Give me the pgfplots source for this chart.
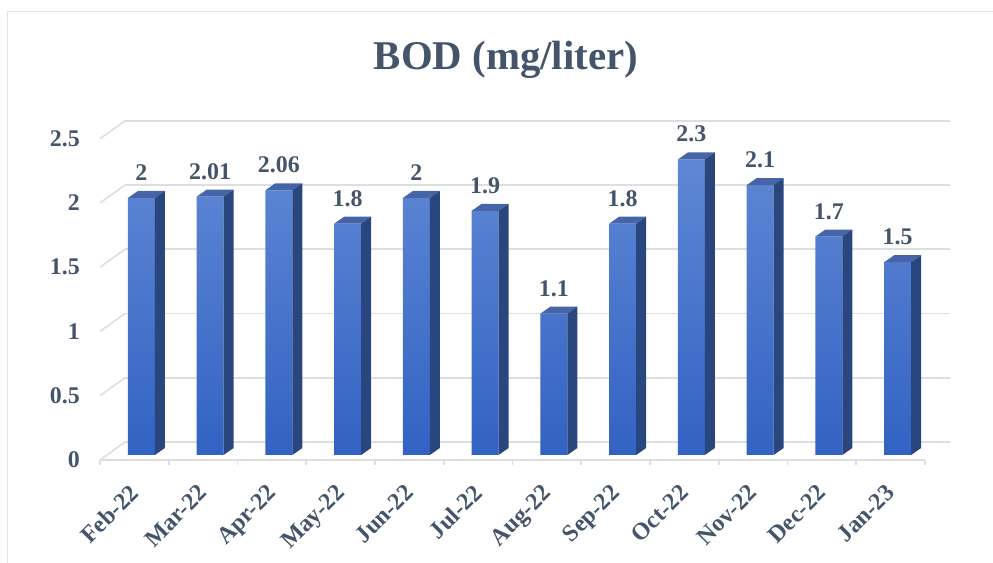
\documentclass[border=0pt]{standalone}
\usepackage{pgfplots}
\pgfplotsset{compat=1.18}
\usepackage{pgfplotstable}
\usepackage{fontspec}
\setmainfont{Liberation Serif}

\definecolor{txt}{HTML}{44546A}
\definecolor{gridc}{HTML}{DCDEE2}
\definecolor{framec}{HTML}{E2E4E8}
\definecolor{facetop}{HTML}{5F87D4}
\definecolor{facebot}{HTML}{3262C3}
\definecolor{bartop}{HTML}{4565A8}
\definecolor{barside}{HTML}{29467F}

% monthly BOD values (mg/liter), categories centred at k+0.5
\pgfplotstableread{
x     v
0.5   2
1.5   2.01
2.5   2.06
3.5   1.8
4.5   2
5.5   1.9
6.5   1.1
7.5   1.8
8.5   2.3
9.5   2.1
10.5  1.7
11.5  1.5
}\boddata

% top and side faces of a 3D column, drawn from the column's top front edge
\pgfdeclareplotmark{colcap}{%
  \pgfmathsetmacro\colh{\barval*128.98}%
  \pgfpathmoveto{\pgfpoint{-13.5bp}{0pt}}%
  \pgfpathlineto{\pgfpoint{13.5bp}{0pt}}%
  \pgfpathlineto{\pgfpoint{23.5bp}{7bp}}%
  \pgfpathlineto{\pgfpoint{-3.5bp}{7bp}}%
  \pgfpathclose
  \pgfsetfillcolor{bartop}%
  \pgfusepath{fill}%
  \pgfpathmoveto{\pgfpoint{13.5bp}{0pt}}%
  \pgfpathlineto{\pgfpoint{23.5bp}{7bp}}%
  \pgfpathlineto{\pgfpoint{23.5bp}{7bp-\colh pt}}%
  \pgfpathlineto{\pgfpoint{13.5bp}{-\colh pt}}%
  \pgfpathclose
  \pgfsetfillcolor{barside}%
  \pgfusepath{fill}%
}

\pgfplotsset{
  chartunits/.style={
    x=68.75bp, y=128.5bp,
    xmin=0, xmax=12, ymin=0, ymax=2.5,
    anchor=south west, clip=false,
  },
}

\newcommand\lbl{\bfseries\fontsize{24}{28}\selectfont}

\begin{document}
\begin{tikzpicture}
\useasboundingbox (0,0) rectangle (993bp,563bp);
\draw[framec, line width=1.5bp] (7.5bp,-10bp) -- (7.5bp,551.5bp) -- (1010bp,551.5bp);

\node[txt, font=\bfseries\fontsize{41}{48}\selectfont] at (506bp,503bp) {BOD (mg/liter)};

% back wall with its gridlines and the left side edges
\begin{axis}[chartunits, at={(125bp,121bp)},
  axis line style={draw=none},
  xtick=\empty, ytick={0,0.5,1,1.5,2,2.5}, yticklabels={},
  major tick length=0pt,
  ymajorgrids, grid style={gridc, line width=1.6bp},
]
\pgfplotsinvokeforeach{0,0.5,1,1.5,2,2.5}{
  \draw[gridc, line width=1.6bp] (axis cs:0,#1) -- ++(-25bp,-18bp);
}
\end{axis}

% front plane: category axis and value labels
\begin{axis}[chartunits, at={(100bp,103bp)},
  axis x line*=bottom, axis y line*=left,
  x axis line style={gridc, line width=1.6bp},
  y axis line style={draw=none},
  xtick={0.5,1.5,2.5,3.5,4.5,5.5,6.5,7.5,8.5,9.5,10.5,11.5},
  xticklabels={Feb-22,Mar-22,Apr-22,May-22,Jun-22,Jul-22,Aug-22,Sep-22,Oct-22,Nov-22,Dec-22,Jan-23},
  minor xtick={0,1,...,12},
  ytick={0,0.5,1,1.5,2,2.5},
  major tick length=0pt, minor tick length=5bp, tick align=outside,
  minor tick style={gridc, line width=1.6bp},
  ytick style={draw=none},
  /pgf/number format/assume math mode=true,
  xticklabel style={txt, font=\lbl, inner sep=0pt, anchor=north east,
    xshift=-6bp, yshift=-23bp, rotate=45},
  yticklabel style={txt, font=\lbl, inner sep=0pt, anchor=east, xshift=-20bp},
]
\end{axis}

% columns
\begin{axis}[chartunits, at={(107bp,108bp)}, hide axis,
  /pgf/number format/assume math mode=true,
]
\addplot[ybar, bar width=27bp, draw=none, top color=facetop, bottom color=facebot,
  nodes near coords,
  nodes near coords style={txt, font=\lbl, anchor=south, inner sep=0pt, yshift=17bp},
] table[x=x, y=v] {\boddata};
\addplot[only marks, mark=colcap,
  visualization depends on={\thisrow{v} \as \barval},
] table[x=x, y=v] {\boddata};
\end{axis}
\end{tikzpicture}
\end{document}
